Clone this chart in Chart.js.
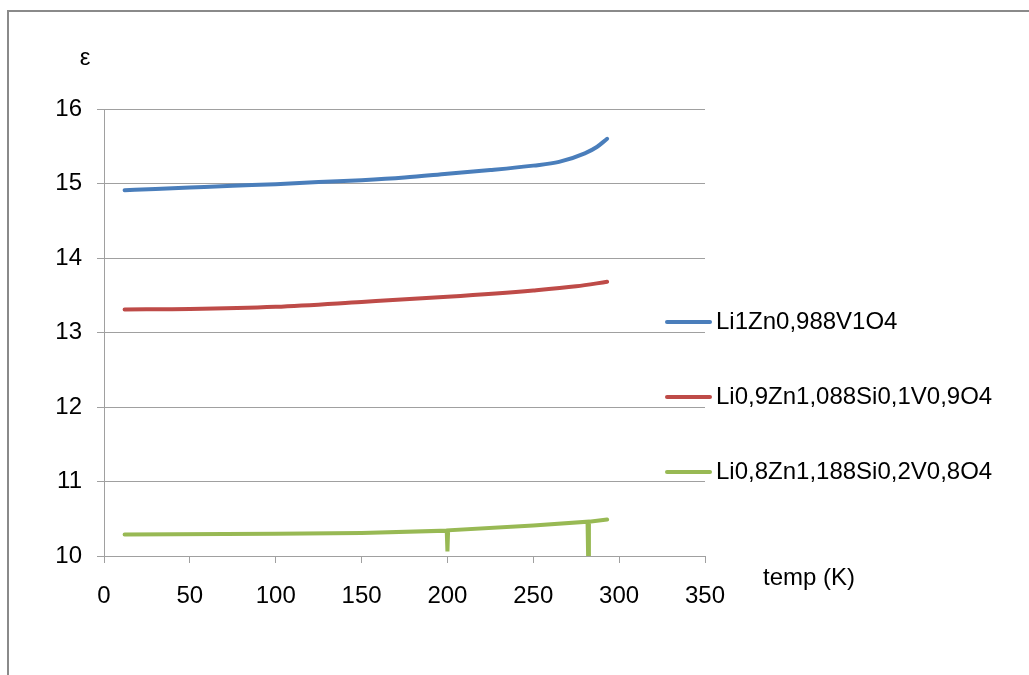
<!DOCTYPE html>
<html>
<head>
<meta charset="utf-8">
<title>Permittivity vs temperature</title>
<script src="https://cdn.jsdelivr.net/npm/chart.js@4.4.1/dist/chart.umd.min.js"></script>
<style>
  html, body { margin: 0; padding: 0; background: #fff; }
  canvas { display: block; }
</style>
</head>
<body>
<canvas id="epsChart" width="1029" height="675"></canvas>
<script>
// measured permittivity, one pair of arrays per sample
const labels = ['Li1Zn0,988V1O4', 'Li0,9Zn1,088Si0,1V0,9O4', 'Li0,8Zn1,188Si0,2V0,8O4'];
const colors = ['#4a7ebb', '#be4b48', '#98b954'];

const tempsA = [12, 30, 50, 75, 100, 125, 150, 175, 200, 225, 250, 265, 280, 287, 293];
const epsA = [14.91, 14.925, 14.945, 14.97, 14.99, 15.02, 15.045, 15.08, 15.13, 15.18, 15.24, 15.29, 15.405, 15.49, 15.6];

const tempsB = [12, 50, 100, 150, 200, 250, 275, 293];
const epsB = [13.31, 13.315, 13.345, 13.41, 13.48, 13.565, 13.62, 13.68];

// two single-reading dropouts near 200 K and 282 K
const tempsC = [12, 100, 150, 199.6, 200, 200.4, 250, 281.6, 282, 282.4, 293];
const epsC = [10.29, 10.3, 10.31, 10.34, 10.06, 10.345, 10.41, 10.46, 9.9, 10.46, 10.49];

const xTicks = [0, 50, 100, 150, 200, 250, 300, 350];
const yTicks = [10, 11, 12, 13, 14, 15, 16];

const FONT = 'Liberation Sans, Arial, sans-serif';

const pairs = (xs, ys) => xs.map((x, i) => ({ x: x, y: ys[i] }));

const series = [pairs(tempsA, epsA), pairs(tempsB, epsB), pairs(tempsC, epsC)];
const smooth = [true, true, false];

// frame, axis titles and the legend sitting beside the plot
const decorations = {
  id: 'decorations',
  afterDraw(chart) {
    const ctx = chart.ctx;
    ctx.save();

    ctx.strokeStyle = '#8a8a8a';
    ctx.lineWidth = 2;
    ctx.beginPath();
    ctx.moveTo(8, 675);
    ctx.lineTo(8, 11);
    ctx.lineTo(1029, 11);
    ctx.stroke();

    ctx.fillStyle = '#000';
    ctx.font = '24px ' + FONT;
    ctx.textBaseline = 'middle';
    ctx.textAlign = 'center';
    ctx.fillText('ε', 85, 58);
    ctx.textAlign = 'left';
    ctx.fillText('temp (K)', 763, 578);

    const rows = [322, 397, 472];
    chart.data.datasets.forEach((ds, i) => {
      ctx.strokeStyle = ds.borderColor;
      ctx.lineWidth = 4;
      ctx.lineCap = 'round';
      ctx.beginPath();
      ctx.moveTo(667, rows[i]);
      ctx.lineTo(710, rows[i]);
      ctx.stroke();
      ctx.fillStyle = '#000';
      ctx.fillText(ds.label, 716, rows[i]);
    });
    ctx.restore();
  }
};

new Chart(document.getElementById('epsChart').getContext('2d'), {
  type: 'line',
  data: {
    datasets: series.map((pts, i) => ({
      label: labels[i],
      data: pts,
      borderColor: colors[i],
      backgroundColor: colors[i],
      borderWidth: 4,
      pointRadius: 0,
      cubicInterpolationMode: smooth[i] ? 'monotone' : 'default',
      tension: 0,
      borderCapStyle: 'round',
      fill: false
    }))
  },
  options: {
    responsive: false,
    animation: false,
    layout: { padding: { top: 109, right: 324, left: 0, bottom: 0 } },
    plugins: {
      legend: { display: false },
      tooltip: { enabled: false }
    },
    scales: {
      x: {
        type: 'linear',
        min: 0,
        max: 350,
        afterBuildTicks: (scale) => { scale.ticks = xTicks.map(v => ({ value: v })); },
        afterFit: (scale) => { scale.height = 675 - 556; },
        grid: { drawOnChartArea: false, drawTicks: true, tickLength: 7, color: '#a0a0a0' },
        border: { color: '#a0a0a0', width: 1 },
        ticks: { color: '#000', font: { family: FONT, size: 24 }, padding: 19, maxRotation: 0, autoSkip: false }
      },
      y: {
        min: 10,
        max: 16,
        afterBuildTicks: (scale) => { scale.ticks = yTicks.map(v => ({ value: v })); },
        afterFit: (scale) => { scale.width = 104; },
        grid: { drawOnChartArea: true, drawTicks: true, tickLength: 7, color: '#a0a0a0' },
        border: { color: '#a0a0a0', width: 1 },
        ticks: { color: '#000', font: { family: FONT, size: 24 }, padding: 15 }
      }
    }
  },
  plugins: [decorations]
});
</script>
</body>
</html>
